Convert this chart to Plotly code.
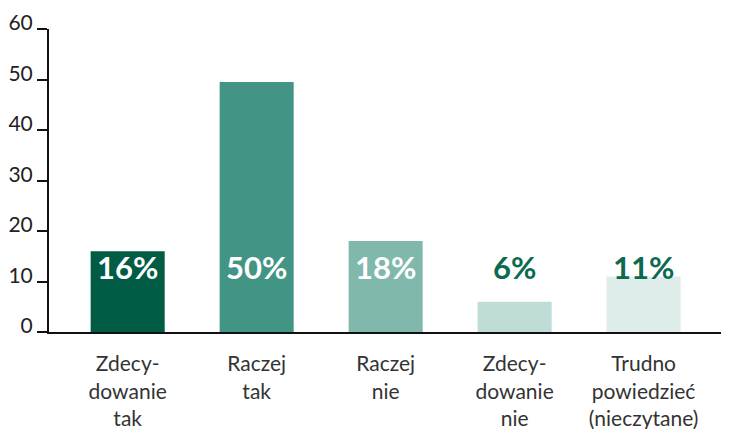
import plotly.graph_objects as go

categories = ["Zdecy-<br>dowanie<br>tak", "Raczej<br>tak", "Raczej<br>nie", "Zdecy-<br>dowanie<br>nie", "Trudno<br>powiedzieć<br>(nieczytane)"]
values = [16, 49.5, 18, 6, 11]
value_labels = ["16%", "50%", "18%", "6%", "11%"]
bar_colors = ["#005C45", "#429484", "#80B8AC", "#BFDCD6", "#DFEDEA"]
label_colors = ["#FFFFFF", "#FFFFFF", "#FFFFFF", "#0B6B50", "#0B6B50"]
label_y = [12, 12, 12, 12, 12]
y_ticks = [0, 10, 20, 30, 40, 50, 60]

fig = go.Figure()
fig.add_trace(go.Bar(
    x=list(range(len(categories))), y=values,
    marker=dict(color=bar_colors, line=dict(width=0)),
    hoverinfo="skip",
))
fig.add_trace(go.Scatter(
    x=list(range(len(categories))), y=label_y,
    mode="text", text=value_labels,
    textfont=dict(family="Lato", size=31, color=label_colors, weight="bold"),
    textposition="middle center",
    hoverinfo="skip",
))

fig.update_layout(
    width=730, height=429,
    margin=dict(l=41, r=17, t=21, b=105),
    paper_bgcolor="white", plot_bgcolor="white",
    showlegend=False,
    bargap=0.426,
    font=dict(family="Lato", color="#222222"),
    xaxis=dict(
        range=[-0.61, 4.6], automargin=False,
        tickmode="array", tickvals=list(range(len(categories))), ticktext=categories,
        tickfont=dict(size=21, color="#333333"),
        ticklabelstandoff=12,
        showgrid=False, zeroline=False,
        showline=True, linecolor="#111111", linewidth=2,
        ticks="",
    ),
    yaxis=dict(
        range=[0, 60], automargin=False,
        tickmode="array", tickvals=y_ticks,
        tickfont=dict(size=21, color="#222222"),
        ticklabelshift=-6,
        showgrid=False, zeroline=False,
        showline=True, linecolor="#111111", linewidth=2,
        ticks="outside", ticklen=10, tickwidth=2, tickcolor="#111111",
    ),
)

fig.write_html("out.html")
